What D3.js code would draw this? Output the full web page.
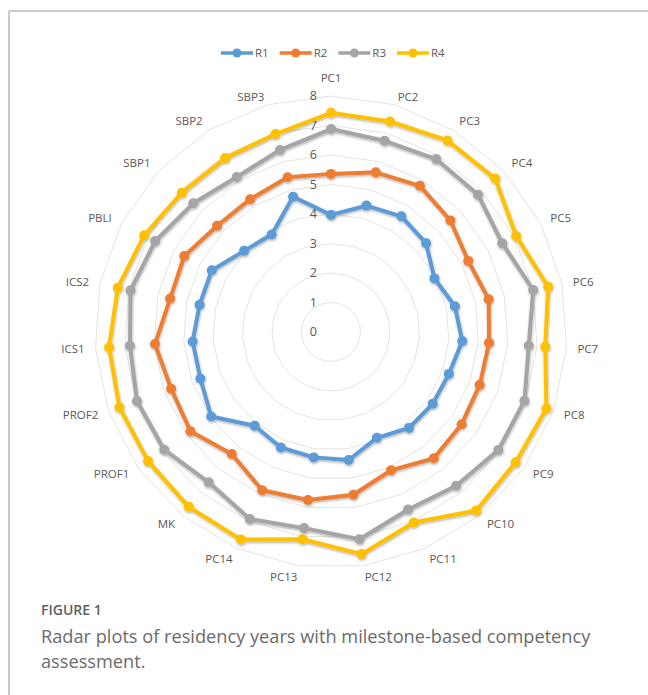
<!DOCTYPE html>
<html>
<head>
<meta charset="utf-8">
<script src="https://cdn.jsdelivr.net/npm/d3@7/dist/d3.min.js"></script>
<style>
  html, body { margin: 0; padding: 0; background: #fff; }
  svg { display: block; }
</style>
</head>
<body>
<svg id="chart" width="648" height="695"></svg>
<script>
// Competency axes, clockwise from the top
const axes = ["PC1","PC2","PC3","PC4","PC5","PC6","PC7","PC8","PC9","PC10","PC11","PC12","PC13","PC14",
              "MK","PROF1","PROF2","ICS1","ICS2","PBLI","SBP1","SBP2","SBP3"];

// Mean milestone level per residency year
const r1 = [3.97,4.45,4.59,4.41,3.95,4.29,4.46,4.24,4.22,4.19,3.91,4.38,4.29,4.27,4.10,4.97,4.70,4.70,4.55,4.55,4.03,3.87,4.76];
const r2 = [5.36,5.62,5.80,5.54,5.24,5.46,5.37,5.35,5.42,5.52,5.11,5.57,5.75,5.85,5.33,5.83,5.75,5.98,5.57,5.60,5.28,5.27,5.45];
const r3 = [6.88,6.73,6.86,6.82,6.54,7.00,6.72,6.96,6.94,6.72,6.56,7.09,6.71,6.91,6.57,6.92,6.98,6.83,6.94,6.71,6.39,6.15,6.41];
const r4 = [7.43,7.41,7.60,7.62,7.07,7.52,7.28,7.75,7.66,7.80,7.04,7.60,7.09,7.67,7.64,7.59,7.61,7.54,7.38,7.13,6.92,6.90,6.97];

const seriesNames = ["R1","R2","R3","R4"];
const seriesColors = ["#5B9BD5","#ED7D31","#A5A5A5","#FFC000"];
const radialTicks = [0,1,2,3,4,5,6,7,8];

const series = [r1, r2, r3, r4].map((values, k) => ({
  name: seriesNames[k], color: seriesColors[k], values
}));

const svg = d3.select("#chart");
const cx = 331, cy = 332;
const labelFont = "'Open Sans', 'Liberation Sans', sans-serif";
const textColor = "#595959";

// Frame lines
svg.append("line").attr("x1", 9).attr("y1", 11).attr("x2", 648).attr("y2", 11)
  .attr("stroke", "#b8b8b8").attr("stroke-width", 1.5);
svg.append("line").attr("x1", 9).attr("y1", 11).attr("x2", 9).attr("y2", 695)
  .attr("stroke", "#b8b8b8").attr("stroke-width", 1.5);

const defs = svg.append("defs");
const shadow = defs.append("filter").attr("id", "shadow")
  .attr("x", "-10%").attr("y", "-10%").attr("width", "120%").attr("height", "120%");
shadow.append("feDropShadow").attr("dx", 0.5).attr("dy", 1.5)
  .attr("stdDeviation", 1).attr("flood-color", "#000").attr("flood-opacity", 0.3);

const r = d3.scaleLinear().domain([0, 8]).range([0, 236]);
const angle = d3.scaleLinear().domain([0, axes.length]).range([0, 2 * Math.PI]);

const g = svg.append("g").attr("transform", `translate(${cx},${cy})`);

// Polygon gridlines
const ringLine = d3.lineRadial()
  .angle((d, i) => angle(i))
  .radius(d => r(d))
  .curve(d3.curveLinearClosed);

g.append("g").selectAll("path")
  .data(radialTicks.filter(t => t > 0))
  .join("path")
  .attr("d", t => ringLine(axes.map(() => t)))
  .attr("fill", "none")
  .attr("stroke", "#dcdcdc")
  .attr("stroke-width", 0.8);

// Radial tick labels
g.append("g").selectAll("text")
  .data(radialTicks)
  .join("text")
  .attr("x", -14)
  .attr("y", t => -r(t))
  .attr("dy", "0.35em")
  .attr("text-anchor", "end")
  .attr("font-family", labelFont)
  .attr("font-size", 12.5)
  .attr("fill", textColor)
  .text(t => t);

// Category labels around the outside
const labelR = 247;
g.append("g").selectAll("text")
  .data(axes)
  .join("text")
  .each(function(name, i) {
    const a = angle(i);
    const s = Math.sin(a), c = Math.cos(a);
    const x = labelR * s, y = -labelR * c;
    const t = d3.select(this)
      .attr("x", x)
      .attr("font-family", labelFont)
      .attr("font-size", 11.5)
      .attr("fill", textColor)
      .text(name);
    if (Math.abs(s) < 0.02) {
      t.attr("text-anchor", "middle").attr("y", c > 0 ? y - 3 : y + 12);
    } else {
      t.attr("text-anchor", s > 0 ? "start" : "end")
        .attr("y", y + (c > 0.9 ? 3 : 0))
        .attr("dy", "0.35em");
    }
  });

// Series lines and markers
const seriesLine = d3.lineRadial()
  .angle((d, i) => angle(i))
  .radius(d => r(d))
  .curve(d3.curveLinearClosed);

const sg = g.append("g").selectAll("g")
  .data(series)
  .join("g")
  .attr("filter", "url(#shadow)");

sg.append("path")
  .attr("d", d => seriesLine(d.values))
  .attr("fill", "none")
  .attr("stroke", d => d.color)
  .attr("stroke-width", 4)
  .attr("stroke-linejoin", "round");

sg.selectAll("circle")
  .data(d => d.values.map((v, i) => ({ v, i, color: d.color })))
  .join("circle")
  .attr("cx", d => r(d.v) * Math.sin(angle(d.i)))
  .attr("cy", d => -r(d.v) * Math.cos(angle(d.i)))
  .attr("r", 5)
  .attr("fill", d => d.color);

// Legend
const legendX = d3.scalePoint().domain(seriesNames).range([221, 397]);
const lg = svg.append("g").selectAll("g")
  .data(series)
  .join("g")
  .attr("transform", d => `translate(${legendX(d.name)},53)`);
lg.append("line").attr("x1", 0).attr("x2", 32).attr("y1", 0).attr("y2", 0)
  .attr("stroke", d => d.color).attr("stroke-width", 3.5);
lg.append("circle").attr("cx", 16).attr("cy", 0).attr("r", 4.5)
  .attr("fill", d => d.color);
lg.append("text").attr("x", 34).attr("y", 0).attr("dy", "0.35em")
  .attr("font-family", labelFont).attr("font-size", 11.5).attr("fill", textColor)
  .text(d => d.name);

// Caption
const cap = svg.append("g").attr("font-family", labelFont);
cap.append("text").attr("x", 41).attr("y", 615)
  .attr("font-size", 14).attr("font-weight", 600).attr("fill", "#5f5f5f")
  .text("FIGURE 1");
cap.append("text").attr("x", 41).attr("y", 643)
  .attr("font-size", 18.2).attr("fill", "#6b6b6b")
  .text("Radar plots of residency years with milestone-based competency");
cap.append("text").attr("x", 41).attr("y", 668)
  .attr("font-size", 18.2).attr("fill", "#6b6b6b")
  .text("assessment.");
</script>
</body>
</html>
